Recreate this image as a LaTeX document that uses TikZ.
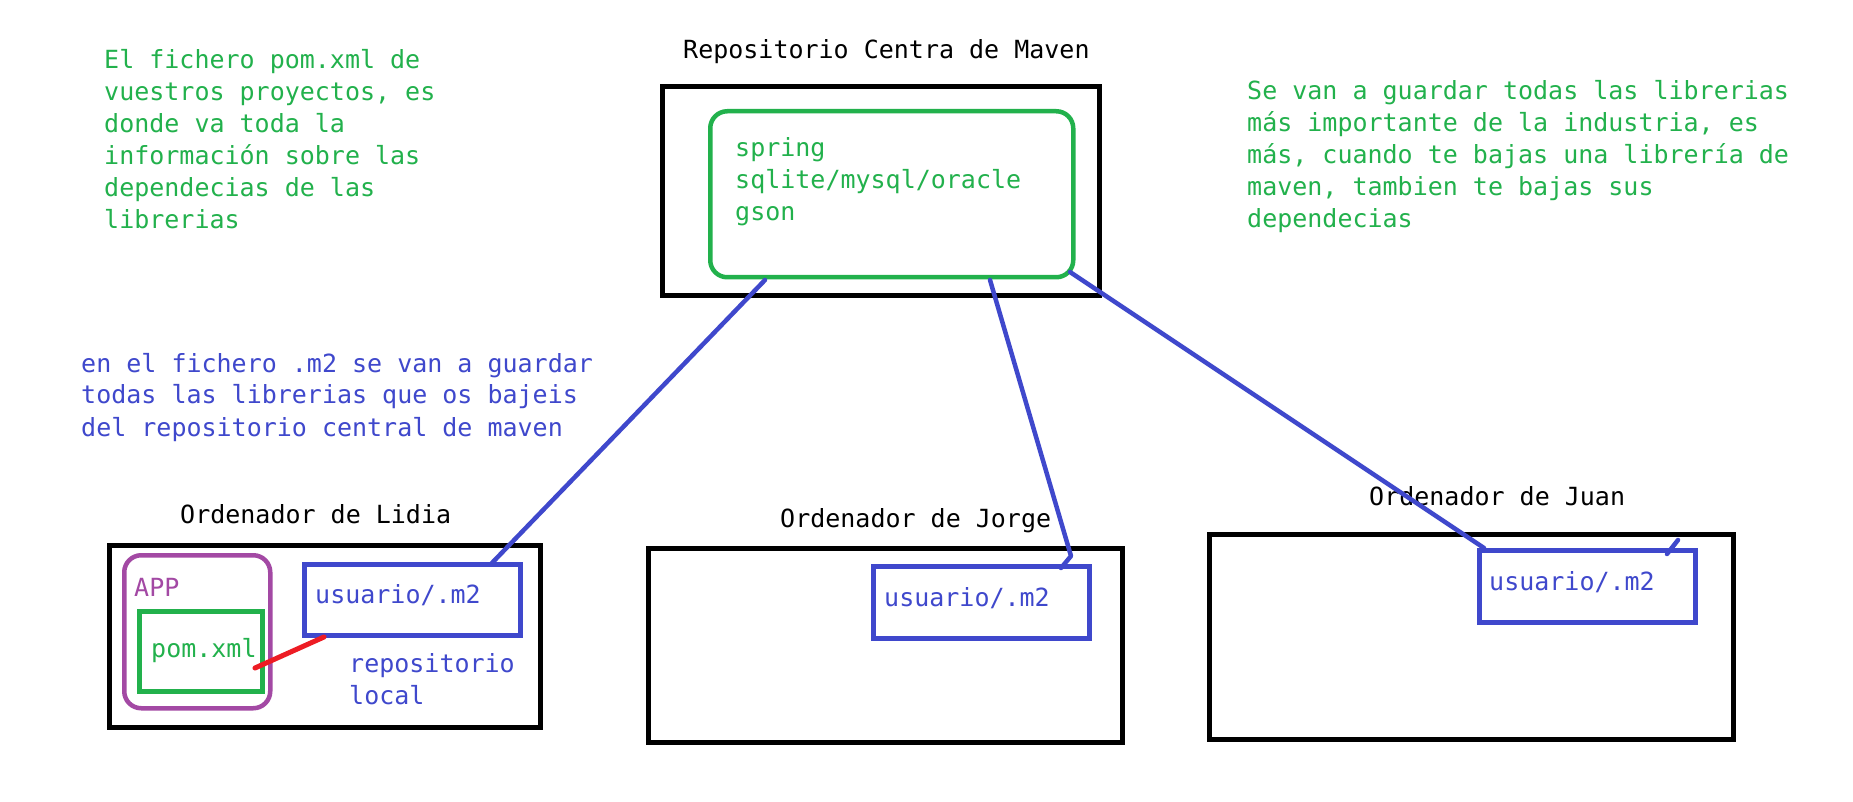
\documentclass[tikz,border=0pt]{standalone}
\usepackage{fontspec}
\newfontfamily\monofnt{DejaVu Sans Mono}
\definecolor{pgreen}{RGB}{34,177,76}
\definecolor{pblue}{RGB}{63,72,204}
\definecolor{ppurple}{RGB}{163,73,164}
\definecolor{pred}{RGB}{237,28,36}
\begin{document}
\begin{tikzpicture}[x=1pt,y=-1pt,
  txt/.style={anchor=base west,inner sep=0pt,font=\monofnt\fontsize{25}{32}\selectfont},
  box/.style={draw,inner sep=0pt,anchor=north west},
  bbox/.style={box,draw=black,line width=5pt},
  gbox/.style={box,draw=pgreen,line width=4.5pt},
  ubox/.style={box,draw=pblue,line width=4.5pt},
  conn/.style={draw=pblue,line width=4.5pt,line cap=round,line join=round}
]
\useasboundingbox[fill=white] (0,0) rectangle (1853,802);
% boxes
\node[bbox,minimum width=437pt,minimum height=209pt] (maven) at (660,84) {};
\node[gbox,rounded corners=17pt,minimum width=363pt,minimum height=166pt] (central) at (708,109) {};
\node[bbox,minimum width=431pt,minimum height=182pt] (lidia) at (107,543) {};
\node[box,draw=ppurple,line width=4.5pt,rounded corners=17pt,minimum width=146pt,minimum height=153pt] (app) at (122,553) {};
\node[gbox,minimum width=123pt,minimum height=80pt] (pom) at (137,609) {};
\node[ubox,minimum width=216pt,minimum height=71pt] (m2a) at (302,562) {};
\node[bbox,minimum width=474pt,minimum height=194pt] (jorge) at (646,546) {};
\node[ubox,minimum width=216pt,minimum height=72pt] (m2b) at (871,564) {};
\node[bbox,minimum width=524pt,minimum height=205pt] (juan) at (1207,532) {};
\node[ubox,minimum width=216pt,minimum height=72pt] (m2c) at (1477,548) {};
% texts
\node[txt,text=black] (tmaven) at (683,59) {Repositorio Centra de Maven};
\node[txt,text=pgreen] (tlibs) at (735,157) {\vtop{\hbox{spring}\hbox{sqlite/mysql/oracle}\hbox{gson}}};
\node[txt,text=pgreen] (tpom) at (104,69) {\vtop{\hbox{El fichero pom.xml de}\hbox{vuestros proyectos, es}\hbox{donde va toda la}\hbox{información sobre las}\hbox{dependecias de las}\hbox{librerias}}};
\node[txt,text=pgreen] (tright) at (1247,100) {\vtop{\hbox{Se van a guardar todas las librerias}\hbox{más importante de la industria, es}\hbox{más, cuando te bajas una librería de}\hbox{maven, tambien te bajas sus}\hbox{dependecias}}};
\node[txt,text=pblue] (tm2) at (81,372) {\vtop{\hbox{en el fichero .m2 se van a guardar}\hbox{todas las librerias que os bajeis}\hbox{del repositorio central de maven}}};
\node[txt,text=black] (tlidia) at (180,523) {Ordenador de Lidia};
\node[txt,text=ppurple] (tapp) at (134,596) {APP};
\node[txt,text=pgreen] (tpomx) at (151,657) {pom.xml};
\node[txt,text=pblue] (tua) at (315,603) {usuario/.m2};
\node[txt,text=pblue] (trepo) at (349,672) {\vtop{\hbox{repositorio}\hbox{local}}};
\node[txt,text=black] (tjorge) at (780,527) {Ordenador de Jorge};
\node[txt,text=pblue] (tub) at (884,606) {usuario/.m2};
\node[txt,text=black] (tjuan) at (1369,505) {Ordenador de Juan};
\node[txt,text=pblue] (tuc) at (1489,590) {usuario/.m2};
% connector points
\coordinate (c1s) at (765,280);
\coordinate (c1e) at (491,564);
\coordinate (c2s) at (990,280);
\coordinate (c2m) at (1071,556);
\coordinate (c2e) at (1061,568);
\coordinate (c3s) at (1070,272);
\coordinate (c3e) at (1484,548);
\coordinate (c4s) at (1678,540);
\coordinate (c4e) at (1667,554);
\coordinate (rs) at (255,668);
\coordinate (re) at (324,637);
\draw[conn] (c1s) -- (c1e);
\draw[conn] (c2s) -- (c2m) -- (c2e);
\draw[conn] (c3s) -- (c3e);
\draw[conn] (c4s) -- (c4e);
\draw[draw=pred,line width=5pt,line cap=round] (rs) -- (re);
\end{tikzpicture}
\end{document}
